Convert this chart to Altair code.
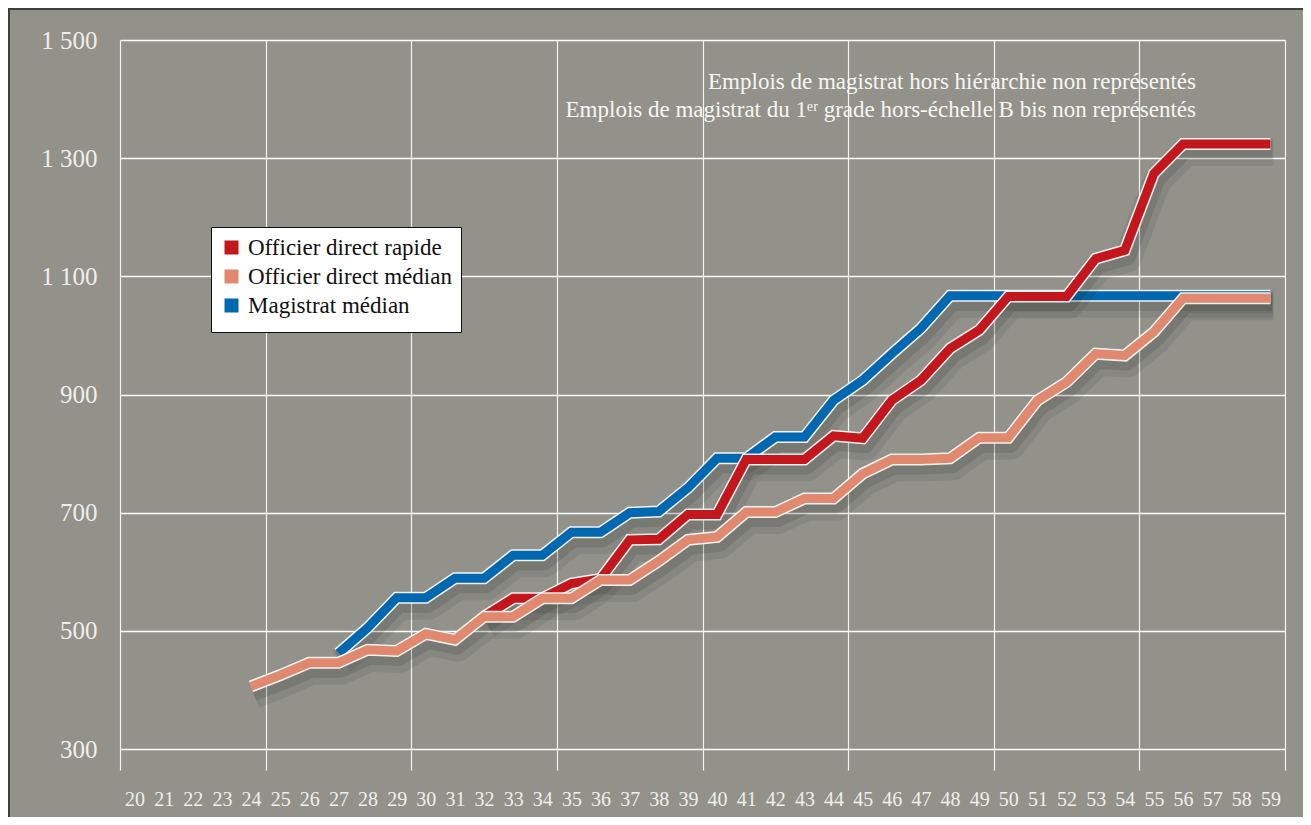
import altair as alt
import pandas as pd

# ---- data ----
AGES_ALL = list(range(20, 60))

SERIES = ["Officier direct rapide", "Officier direct médian", "Magistrat médian"]
COLORS = ["#c4171d", "#e0896e", "#0067b1"]

red_ages = list(range(32, 60))
red_vals = [524, 555, 555, 580, 588, 654, 655, 697, 697, 790, 790, 790, 830, 826,
            890, 924, 978, 1009, 1066, 1066, 1066, 1130, 1144, 1274, 1324, 1324, 1324, 1324]

orange_ages = list(range(24, 60))
orange_vals = [406, 425, 446, 446, 468, 466, 495, 485, 524, 524, 555, 555, 586, 586,
               618, 654, 659, 701, 701, 724, 724, 766, 790, 790, 792, 827, 827, 890,
               921, 969, 966, 1006, 1063, 1063, 1063, 1063]

blue_ages = list(range(27, 60))
blue_vals = [462, 505, 556, 556, 589, 589, 628, 628, 667, 667, 700, 702, 742, 792,
             792, 828, 828, 890, 924, 969, 1012, 1067, 1067, 1067, 1067, 1067, 1067,
             1067, 1067, 1067, 1067, 1067, 1067]

Y_TICKS = [300, 500, 700, 900, 1100, 1300, 1500]
X_GRID = [19.5 + 5 * i for i in range(9)]

NOTES = ["Emplois de magistrat hors hiérarchie non représentés",
         "Emplois de magistrat du 1ᵉʳ grade hors-échelle B bis non représentés"]

rows = []
for name, ages, vals in [(SERIES[2], blue_ages, blue_vals),
                         (SERIES[0], red_ages, red_vals),
                         (SERIES[1], orange_ages, orange_vals)]:
    for a, v in zip(ages, vals):
        rows.append({"age": a, "val": v, "serie": name})
df = pd.DataFrame(rows)

FONT = "Liberation Serif"
TXT = "#efefea"

x_enc = alt.X(
    "age:Q",
    title=None,
    scale=alt.Scale(domain=[19.5, 59.5], nice=False, zero=False),
    axis=alt.Axis(
        values=sorted(AGES_ALL + X_GRID),
        labelExpr="datum.value % 1 == 0 ? datum.label : ''",
        grid=True,
        gridColor="#f4f4f0",
        gridWidth=1.2,
        gridOpacity={"condition": {"test": "datum.value % 1 != 0", "value": 1}, "value": 0},
        ticks=True,
        tickSize=21,
        tickColor="#f4f4f0",
        tickWidth=1.2,
        tickOpacity={"condition": {"test": "datum.value % 1 != 0", "value": 1}, "value": 0},
        domain=False,
        labelFont=FONT,
        labelFontSize=20,
        labelColor=TXT,
        labelPadding=19,
        labelOverlap=False,
        labelFlush=False,
    ),
)
y_enc = alt.Y(
    "val:Q",
    title=None,
    scale=alt.Scale(domain=[300, 1500], nice=False, zero=False),
    axis=alt.Axis(
        values=Y_TICKS,
        labelExpr="replace(format(datum.value, ','), ',', ' ')",
        grid=True,
        gridColor="#ffffff",
        gridWidth=1.6,
        ticks=False,
        domain=False,
        labelFont=FONT,
        labelFontSize=25,
        labelColor=TXT,
        labelPadding=23,
    ),
)

color_enc = alt.Color(
    "serie:N",
    scale=alt.Scale(domain=SERIES, range=COLORS),
    legend=alt.Legend(
        title=None, orient="none", legendX=91, legendY=187,
        fillColor="#ffffff", strokeColor="#111111", padding=9,
        symbolType="square", symbolSize=49, symbolStrokeWidth=7,
        labelFont=FONT, labelFontSize=23, labelColor="#111111", labelLimit=0,
        labelOffset=5, rowPadding=-6.5,
    ),
)

layers = []
for name in [SERIES[2], SERIES[0], SERIES[1]]:
    base = alt.Chart(df).transform_filter(alt.datum.serie == name)
    layers.append(base.mark_line(color="#262622", strokeWidth=28, opacity=0.09,
                                 strokeJoin="round", xOffset=3, yOffset=8)
                  .encode(x=x_enc, y=y_enc))
    layers.append(base.mark_line(color="#262622", strokeWidth=18, opacity=0.14,
                                 strokeJoin="round", xOffset=2, yOffset=6)
                  .encode(x=x_enc, y=y_enc))
    layers.append(base.mark_line(color="#ffffff", strokeWidth=12, strokeJoin="miter",
                                 strokeCap="butt", opacity=0.9)
                  .encode(x=x_enc, y=y_enc))
    layers.append(base.mark_line(strokeWidth=9, strokeJoin="miter", strokeCap="butt")
                  .encode(x=x_enc, y=y_enc, color=color_enc))

notes = alt.Chart(alt.Data(values=[{}])).mark_text(
    align="right", baseline="middle", font=FONT, fontSize=23, color="#f6f6f2", lineHeight=28,
).encode(text=alt.value(NOTES), x=alt.value(1076), y=alt.value(42))

border = alt.Chart(alt.Data(values=[{}])).mark_rect(
    fillOpacity=0, stroke="#3f3f3c", strokeWidth=2,
).encode(x=alt.value(-111), x2=alt.value(1400), y=alt.value(-31), y2=alt.value(900))

chart = alt.layer(border, *layers, notes).properties(
    width=1165, height=709,
    autosize=alt.AutoSizeParams(type="none"),
    padding={"left": 112, "top": 32, "right": 18, "bottom": 68},
    background="#92928b",
).configure_view(stroke=None)

chart.save("out.html", embed_options={"renderer": "svg", "actions": False})
